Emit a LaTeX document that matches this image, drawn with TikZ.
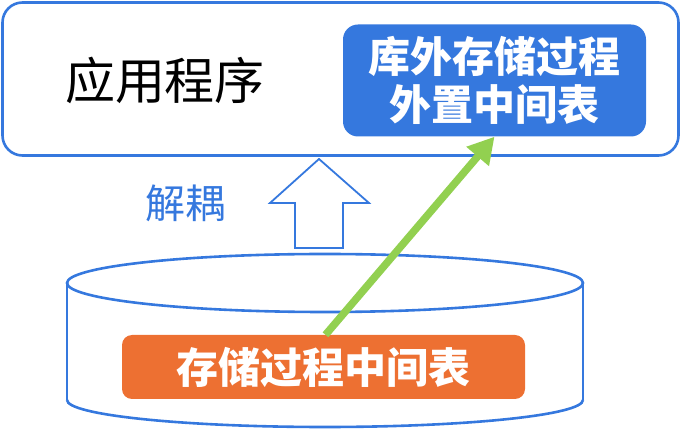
\documentclass[tikz,border=0pt]{standalone}
\usepackage{fontspec}
\newfontfamily\cjk{Noto Sans CJK SC}
\usetikzlibrary{arrows.meta}
\definecolor{appblue}{HTML}{3578DE}
\definecolor{tblorange}{HTML}{ED7032}
\definecolor{linkgreen}{HTML}{92D050}

\begin{document}
\begin{tikzpicture}[x=1pt,y=-1pt,
    outline/.style={draw=appblue,line width=2.6pt},
    tag/.style={text=white,align=center,inner sep=0pt,font=\cjk\bfseries\fontsize{42}{48}\selectfont}]
    \useasboundingbox (0,0) rectangle (681,430);
    % application box
    \node[outline,rounded corners=20pt,minimum width=676pt,minimum height=153pt] (app) at (340.5,79) {};
    \node (apptext) at (165,80) {\cjk\fontsize{50}{50}\selectfont 应用程序};
    \node[tag,fill=appblue,rounded corners=15pt,minimum width=303pt,minimum height=112pt] (ext) at (494.5,80.5) {库外存储过程\\外置中间表};
    % database cylinder
    \draw[outline] (325,283) ellipse [x radius=258,y radius=29];
    \draw[outline] (67,283)--(67,400);
    \draw[outline] (583,283)--(583,400);
    \draw[outline] (67,400) arc [start angle=180,end angle=360,x radius=258,y radius=-27];
    \node[tag,fill=tblorange,rounded corners=10pt,minimum width=403pt,minimum height=64pt] (tbl) at (323.5,367) {存储过程中间表};
    % decoupling
    \draw[draw=appblue,line width=1.8pt] (319,159)--(369,203)--(343,203)--(343,248)--(295,248)--(295,203)--(270,203)--cycle;
    \node[text=appblue] (dec) at (185,203) {\cjk\fontsize{40}{40}\selectfont 解耦};
    \draw[-{Triangle[length=26pt,width=28pt]},line width=7.5pt,draw=linkgreen] ([xshift=2pt]tbl.north)--(ext.south);
\end{tikzpicture}
\end{document}
